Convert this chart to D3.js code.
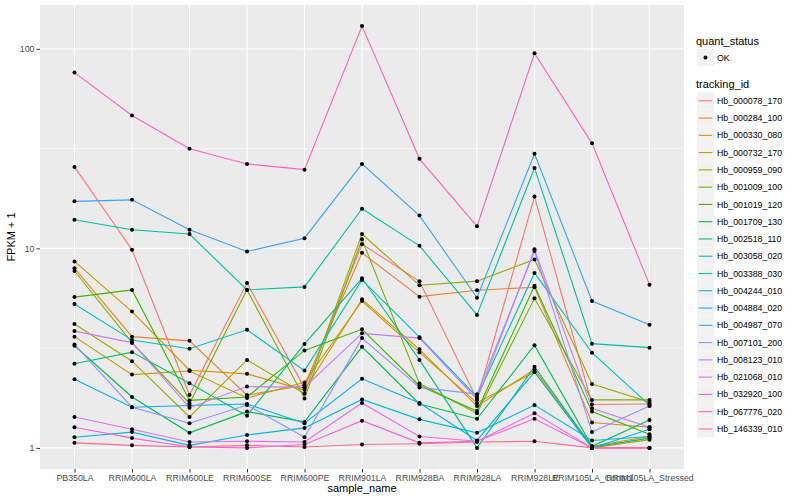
<!DOCTYPE html>
<html><head><meta charset="utf-8">
<script src="https://cdn.jsdelivr.net/npm/d3@7"></script>
<style>body{margin:0;background:#fff}svg{display:block;font-family:"Liberation Sans",Arial,sans-serif}</style>
</head><body><svg id="c" width="800" height="500"></svg>
<script>
const samples = ["PB350LA","RRIM600LA","RRIM600LE","RRIM600SE","RRIM600PE","RRIM901LA","RRIM928BA","RRIM928LA","RRIM928LE","RRIM105LA_Control","RRIM105LA_Stressed"];
const trackingIds = ["Hb_000078_170","Hb_000284_100","Hb_000330_080","Hb_000732_170","Hb_000959_090","Hb_001009_100","Hb_001019_120","Hb_001709_130","Hb_002518_110","Hb_003058_020","Hb_003388_030","Hb_004244_010","Hb_004884_020","Hb_004987_070","Hb_007101_200","Hb_008123_010","Hb_021068_010","Hb_032920_100","Hb_067776_020","Hb_146339_010"];
const colors = ["#F8766D","#EA8331","#D89000","#C09B00","#A3A500","#7CAE00","#39B600","#00BB4E","#00BF7D","#00C1A3","#00BFC4","#00BAE0","#00B0F6","#35A2FF","#9590FF","#C77CFF","#E76BF3","#FA62DB","#FF62BC","#FF6C91"];
const s000078_170 = [25.6, 9.85, 1.84, 6.7, 2.0, 10.5, 6.84, 1.75, 18.2, 1.65, 1.66];
const s000284_100 = [7.96, 3.61, 3.44, 1.84, 2.06, 9.5, 5.73, 6.17, 6.38, 1.34, 1.27];
const s000330_080 = [8.6, 4.82, 2.45, 2.35, 1.95, 5.56, 3.12, 1.62, 2.47, 1.02, 1.14];
const s000732_170 = [3.61, 2.33, 2.43, 1.78, 2.13, 5.45, 3.01, 1.68, 2.40, 1.0, 1.10];
const s000959_090 = [4.18, 2.72, 1.43, 2.76, 1.87, 11.8, 6.53, 6.85, 8.8, 2.09, 1.70];
const s001009_100 = [7.7, 3.37, 1.67, 6.2, 1.77, 11.1, 2.10, 1.49, 5.62, 1.74, 1.74];
const s001019_120 = [5.7, 6.19, 1.73, 1.80, 3.08, 3.93, 2.05, 1.53, 6.5, 1.52, 1.17];
const s001709_130 = [3.25, 1.80, 1.19, 1.52, 1.35, 3.21, 1.66, 1.40, 3.27, 1.02, 1.38];
const s002518_110 = [2.64, 3.02, 2.11, 1.45, 3.32, 7.08, 2.76, 1.00, 2.55, 1.01, 1.12];
const s003058_020 = [13.9, 12.4, 11.8, 6.19, 6.41, 15.8, 10.3, 4.64, 25.3, 3.33, 3.18];
const s003388_030 = [5.26, 3.47, 3.14, 3.91, 2.44, 6.95, 3.59, 1.80, 7.53, 3.0, 1.64];
const s004244_010 = [1.13, 1.20, 1.03, 1.16, 1.26, 1.75, 1.39, 1.19, 1.64, 1.09, 1.14];
const s004884_020 = [2.21, 1.60, 1.63, 1.66, 1.33, 2.22, 1.68, 1.09, 2.40, 1.0, 1.24];
const s004987_070 = [17.2, 17.5, 12.4, 9.64, 11.25, 26.5, 14.6, 5.66, 29.8, 5.45, 4.14];
const s007101_200 = [3.30, 1.60, 1.33, 1.64, 1.13, 3.55, 2.01, 1.86, 9.7, 1.20, 1.62];
const s008123_010 = [3.85, 3.37, 1.59, 2.03, 2.01, 3.75, 3.55, 1.75, 9.9, 1.58, 1.27];
const s021068_010 = [1.43, 1.24, 1.07, 1.08, 1.07, 1.68, 1.14, 1.08, 1.49, 1.0, 1.0];
const s032920_100 = [1.27, 1.12, 1.01, 1.0, 1.04, 1.37, 1.06, 1.08, 1.40, 1.0, 1.0];
const s067776_020 = [76, 46.3, 31.6, 26.5, 24.8, 130, 28.1, 12.9, 95, 33.6, 6.58];
const s146339_010 = [1.06, 1.03, 1.01, 1.03, 1.01, 1.04, 1.05, 1.07, 1.08, 1.0, 1.0];
const seriesValues = [s000078_170,s000284_100,s000330_080,s000732_170,s000959_090,s001009_100,s001019_120,s001709_130,s002518_110,s003058_020,s003388_030,s004244_010,s004884_020,s004987_070,s007101_200,s008123_010,s021068_010,s032920_100,s067776_020,s146339_010];
const yTicks = [1, 10, 100];
const yMinor = [Math.sqrt(10), Math.sqrt(1000)];

const svg = d3.select("#c");
const L = 40, R = 684, T = 5, B = 469;
const x = d3.scalePoint().domain(samples).range([L, R]).padding(0.6);
const all = seriesValues.flat();
const lmin = Math.log10(d3.min(all)), lmax = Math.log10(d3.max(all));
const ex = (lmax - lmin) * 0.05;
const y = d3.scaleLog().domain([Math.pow(10, lmin - ex), Math.pow(10, lmax + ex)]).range([B, T]);

svg.append("rect").attr("x", L).attr("y", T).attr("width", R - L).attr("height", B - T).attr("fill", "#EBEBEB");
const g = svg.append("g");
g.selectAll(".ymin").data(yMinor).join("line").attr("x1", L).attr("x2", R).attr("y1", d => y(d)).attr("y2", d => y(d)).attr("stroke", "#fff").attr("stroke-width", 0.55);
g.selectAll(".ymaj").data(yTicks).join("line").attr("x1", L).attr("x2", R).attr("y1", d => y(d)).attr("y2", d => y(d)).attr("stroke", "#fff").attr("stroke-width", 1.1);
g.selectAll(".xmaj").data(samples).join("line").attr("y1", T).attr("y2", B).attr("x1", d => x(d)).attr("x2", d => x(d)).attr("stroke", "#fff").attr("stroke-width", 1.1);

const line = d3.line().x((d, i) => x(samples[i])).y(d => y(d));
svg.append("g").selectAll("path").data(seriesValues).join("path")
  .attr("d", d => line(d)).attr("fill", "none").attr("stroke", (d, i) => colors[i]).attr("stroke-width", 1.1);
const pts = [];
seriesValues.forEach(s => s.forEach((v, i) => pts.push([samples[i], v])));
svg.append("g").selectAll("circle").data(pts).join("circle")
  .attr("cx", d => x(d[0])).attr("cy", d => y(d[1])).attr("r", 2).attr("fill", "#000");

// axes
const xa = svg.append("g").attr("transform", `translate(0,${B})`).call(d3.axisBottom(x).tickSize(3.5).tickPadding(2));
const ya = svg.append("g").attr("transform", `translate(${L},0)`).call(d3.axisLeft(y).tickValues(yTicks).tickFormat(d3.format("d")).tickSize(3.5).tickPadding(2));
[xa, ya].forEach(a => {
  a.select(".domain").remove();
  a.selectAll(".tick line").attr("stroke", "#333").attr("stroke-width", 1);
  a.selectAll(".tick text").attr("fill", "#4D4D4D").attr("font-size", 8.8).attr("font-family", "Liberation Sans, Arial, sans-serif");
});
svg.append("text").attr("x", (L + R) / 2).attr("y", 492).attr("text-anchor", "middle").attr("font-size", 11).attr("fill", "#000").text("sample_name");
svg.append("text").attr("transform", `translate(15,${(T + B) / 2}) rotate(-90)`).attr("text-anchor", "middle").attr("font-size", 11).attr("fill", "#000").text("FPKM + 1");

// legend
const lg = svg.append("g");
lg.append("text").attr("x", 696).attr("y", 45).attr("font-size", 11).text("quant_status");
lg.append("rect").attr("x", 697).attr("y", 49).attr("width", 17).attr("height", 17).attr("fill", "#F2F2F2");
lg.append("circle").attr("cx", 705.5).attr("cy", 57.5).attr("r", 2).attr("fill", "#000");
lg.append("text").attr("x", 717).attr("y", 61).attr("font-size", 8.8).text("OK");
lg.append("text").attr("x", 696).attr("y", 88).attr("font-size", 11).text("tracking_id");
const rows = lg.selectAll(".row").data(trackingIds).join("g").attr("transform", (d, i) => `translate(697,${92.3 + i * 17.27})`);
rows.append("rect").attr("width", 17).attr("height", 17).attr("fill", "#F2F2F2");
rows.append("line").attr("x1", 1.7).attr("x2", 15.3).attr("y1", 8.5).attr("y2", 8.5).attr("stroke", (d, i) => colors[i]).attr("stroke-width", 1.1);
rows.append("text").attr("x", 20).attr("y", 11.6).attr("font-size", 8.8).text(d => d);
</script></body></html>
